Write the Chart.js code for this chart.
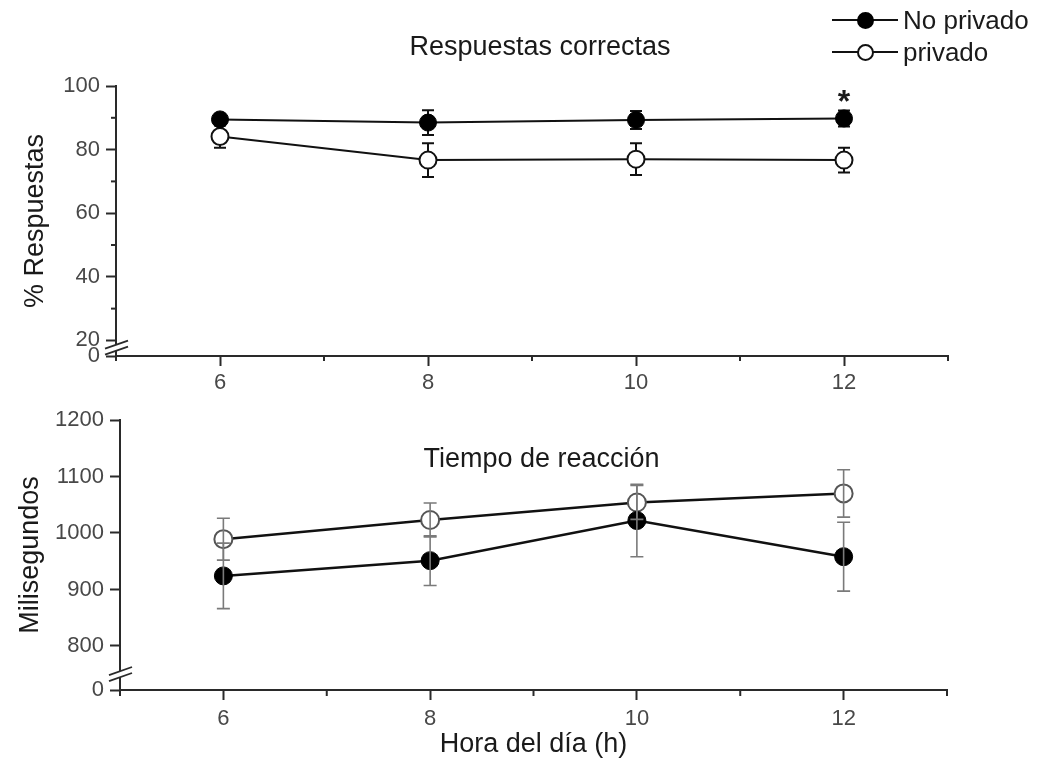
<!DOCTYPE html>
<html>
<head>
<meta charset="utf-8">
<script src="https://cdn.jsdelivr.net/npm/chart.js@4.4.1/dist/chart.umd.min.js"></script>
<style>
  html, body { margin: 0; padding: 0; background: #ffffff; }
  #wrap { position: relative; width: 1039px; height: 761px; overflow: hidden; font-family: "Liberation Sans", Arial, sans-serif; }
  #c1 { position: absolute; left: 0; top: 0; }
  #c2 { position: absolute; left: 0; top: 400px; }
  #legend { position: absolute; left: 832px; top: 4px; color: #1a1a1a; font-size: 26px; }
  .lg { height: 32px; display: flex; align-items: center; }
  .sym { position: relative; width: 66px; height: 32px; margin-right: 5px; }
  .sym .ln { position: absolute; left: 0; right: 0; top: 15px; border-top: 2px solid #111; }
  .sym .dot { position: absolute; left: 25px; top: 8px; width: 17px; height: 17px; border-radius: 50%; box-sizing: border-box; }
  .dot.filled { background: #000; border: 2px solid #000; }
  .dot.open { background: #fff; border: 2px solid #111; }
</style>
</head>
<body>
<div id="wrap">
  <canvas id="c1" width="1039" height="400"></canvas>
  <canvas id="c2" width="1039" height="361"></canvas>
  <div id="legend"></div>
</div>
<script>
// ---------------- data ----------------
const hours = [6, 8, 10, 12];
const seriesNames = ['No privado', 'privado'];

const correctNoPriv    = [89.5, 88.5, 89.3, 89.8];
const correctNoPrivErr = [1.5, 3.9, 2.8, 2.5];
const correctPriv      = [84.1, 76.7, 77.0, 76.7];
const correctPrivErr   = [3.5, 5.3, 5.0, 3.9];
const significant      = [false, false, false, true];

const rtNoPriv    = [924, 951, 1022, 958];
const rtNoPrivErr = [58, 44, 64, 61];
const rtPriv      = [989, 1023, 1054, 1070];
const rtPrivErr   = [37, 30, 30, 42];

const xTicks      = [6, 8, 10, 12];
const xMinorTicks = [5, 7, 9, 11, 13];
const topYTicks   = [20, 40, 60, 80, 100];
const topYMinor   = [30, 50, 70, 90];
const botYTicks   = [800, 900, 1000, 1100, 1200];

const topTitle = 'Respuestas correctas';
const botTitle = 'Tiempo de reacción';
const topYTitle = '% Respuestas';
const botYTitle = 'Milisegundos';
const xTitle = 'Hora del día (h)';

// axis settings (broken axes: the lowest tick is labelled "0")
const xMin = 5, xMax = 13;
const topYMin = 15.1, topYMax = 100, topBreakAt = 17.7;
const botYMin = 722, botYMax = 1200, botBreakAt = 750;

// ---------------- helpers ----------------
const FONT = '"Liberation Sans", Arial, sans-serif';
const AXIS = '#2a2a2a';
const TICKTXT = '#484848';
const TITLE_SIZE = 27;
const TICK_SIZE = 22;
const pts = (ys) => hours.map((h, i) => ({ x: h, y: ys[i] }));

// legend (HTML)
const legendEl = document.getElementById('legend');
[['filled', seriesNames[0]], ['open', seriesNames[1]]].forEach(([cls, name]) => {
  const row = document.createElement('div'); row.className = 'lg';
  row.innerHTML = '<div class="sym"><div class="ln"></div><div class="dot ' + cls + '"></div></div><span>' + name + '</span>';
  legendEl.appendChild(row);
});

function drawErrors(chart, o) {
  const ctx = chart.ctx, xs = chart.scales.x, ys = chart.scales.y;
  ctx.save();
  ctx.strokeStyle = o.color; ctx.lineWidth = o.width; ctx.lineCap = 'butt';
  chart.data.datasets.forEach(ds => {
    if (!ds.errors) return;
    ds.data.forEach((p, i) => {
      const e = ds.errors[i];
      const x = xs.getPixelForValue(p.x);
      const y1 = ys.getPixelForValue(p.y + e);
      const y2 = ys.getPixelForValue(p.y - e);
      ctx.beginPath();
      ctx.moveTo(x, y1); ctx.lineTo(x, y2);
      ctx.moveTo(x - o.cap, y1); ctx.lineTo(x + o.cap, y1);
      ctx.moveTo(x - o.cap, y2); ctx.lineTo(x + o.cap, y2);
      ctx.stroke();
    });
  });
  ctx.restore();
}

const errorBarPlugin = {
  id: 'errorBars',
  beforeDatasetsDraw(chart, args, o) { if (!o.onTop) drawErrors(chart, o); },
  afterDatasetsDraw(chart, args, o) { if (o.onTop) drawErrors(chart, o); }
};

const decorPlugin = {
  id: 'decor',
  afterDraw(chart, args, o) {
    const ctx = chart.ctx, xs = chart.scales.x, ys = chart.scales.y;
    const ca = chart.chartArea;
    ctx.save();
    ctx.strokeStyle = AXIS; ctx.lineWidth = 2;
    (o.xMinor || []).forEach(v => {
      const x = xs.getPixelForValue(v);
      ctx.beginPath(); ctx.moveTo(x, ca.bottom); ctx.lineTo(x, ca.bottom + o.minorLen); ctx.stroke();
    });
    (o.yMinor || []).forEach(v => {
      const y = ys.getPixelForValue(v);
      ctx.beginPath(); ctx.moveTo(ca.left, y); ctx.lineTo(ca.left - o.minorLen, y); ctx.stroke();
    });
    // axis break marks
    const by = ys.getPixelForValue(o.breakAt);
    const ax = ca.left;
    const dx1 = -11, dx2 = 12, slope = -0.35, gap = 3;
    ctx.fillStyle = '#ffffff';
    ctx.beginPath();
    ctx.moveTo(ax + dx1, by - gap + dx1 * slope);
    ctx.lineTo(ax + dx2, by - gap + dx2 * slope);
    ctx.lineTo(ax + dx2, by + gap + dx2 * slope);
    ctx.lineTo(ax + dx1, by + gap + dx1 * slope);
    ctx.closePath(); ctx.fill();
    ctx.lineWidth = 1.8;
    [-gap, gap].forEach(g => {
      ctx.beginPath();
      ctx.moveTo(ax + dx1, by + g + dx1 * slope);
      ctx.lineTo(ax + dx2, by + g + dx2 * slope);
      ctx.stroke();
    });
    // panel title
    ctx.fillStyle = '#1a1a1a';
    ctx.font = TITLE_SIZE + 'px ' + FONT;
    ctx.textAlign = 'center'; ctx.textBaseline = 'middle';
    ctx.fillText(o.title, (ca.left + ca.right) / 2 + o.titleDx, ca.top + o.titleDy);
    // significance marks
    if (o.sig) {
      const ds = chart.data.datasets[0];
      ctx.font = 'bold 32px ' + FONT;
      ctx.textBaseline = 'alphabetic';
      o.sig.forEach((s, i) => {
        if (!s) return;
        const p = ds.data[i];
        ctx.fillText('*', xs.getPixelForValue(p.x), ys.getPixelForValue(p.y + ds.errors[i]) + 2);
      });
    }
    ctx.restore();
  }
};

function xScale(withTitle, fitHeight, pad) {
  return {
    type: 'linear', min: xMin, max: xMax, position: 'bottom',
    afterBuildTicks: s => { s.ticks = xTicks.map(v => ({ value: v })); },
    afterFit: s => { s.height = fitHeight; },
    grid: { drawOnChartArea: false, drawTicks: true, tickLength: 10, tickColor: AXIS, tickWidth: 2 },
    border: { display: true, color: AXIS, width: 2 },
    ticks: { autoSkip: false, maxRotation: 0, padding: pad, color: TICKTXT, font: { family: FONT, size: TICK_SIZE } },
    title: withTitle ? { display: true, text: xTitle, color: '#1a1a1a', font: { family: FONT, size: TITLE_SIZE }, padding: { top: 0, bottom: 0 } } : { display: false }
  };
}

function yScale(min, max, ticks, title, fitWidth, titlePad) {
  return {
    type: 'linear', min: min, max: max, position: 'left',
    afterBuildTicks: s => { s.ticks = [min].concat(ticks).map(v => ({ value: v })); },
    afterFit: s => { s.width = fitWidth; },
    grid: { drawOnChartArea: false, drawTicks: true, tickLength: 10, tickColor: AXIS, tickWidth: 2 },
    border: { display: true, color: AXIS, width: 2 },
    ticks: { autoSkip: false, padding: 6, color: TICKTXT, font: { family: FONT, size: TICK_SIZE },
             callback: v => (v === min ? '0' : String(v)) },
    title: { display: true, text: title, color: '#1a1a1a', font: { family: FONT, size: TITLE_SIZE }, padding: { top: titlePad, bottom: 0 } }
  };
}

Chart.defaults.font.family = FONT;

// ---------------- top chart ----------------
new Chart(document.getElementById('c1'), {
  type: 'line',
  data: {
    datasets: [
      { label: seriesNames[0], data: pts(correctNoPriv), errors: correctNoPrivErr,
        borderColor: '#111', borderWidth: 2, backgroundColor: '#000',
        pointRadius: 8.5, pointBackgroundColor: '#000', pointBorderColor: '#000', pointBorderWidth: 1, tension: 0 },
      { label: seriesNames[1], data: pts(correctPriv), errors: correctPrivErr,
        borderColor: '#111', borderWidth: 2, backgroundColor: '#fff',
        pointRadius: 8.5, pointBackgroundColor: '#fff', pointBorderColor: '#111', pointBorderWidth: 2, tension: 0 }
    ]
  },
  options: {
    responsive: false, animation: false, devicePixelRatio: 1,
    layout: { padding: { top: 86, right: 91, left: 0, bottom: 0 } },
    scales: { x: xScale(false, 44, 4), y: yScale(topYMin, topYMax, topYTicks, topYTitle, 116, 19) },
    plugins: {
      legend: { display: false }, tooltip: { enabled: false },
      errorBars: { onTop: false, color: '#111', width: 2, cap: 6 },
      decor: { xMinor: xMinorTicks, yMinor: topYMinor, minorLen: 5, breakAt: topBreakAt,
               title: topTitle, titleDx: 8, titleDy: -38, sig: significant }
    }
  },
  plugins: [errorBarPlugin, decorPlugin]
});

// ---------------- bottom chart ----------------
new Chart(document.getElementById('c2'), {
  type: 'line',
  data: {
    datasets: [
      { label: seriesNames[0], data: pts(rtNoPriv), errors: rtNoPrivErr,
        borderColor: '#111', borderWidth: 2.5, backgroundColor: '#000',
        pointRadius: 9, pointBackgroundColor: '#000', pointBorderColor: '#000', pointBorderWidth: 1, tension: 0 },
      { label: seriesNames[1], data: pts(rtPriv), errors: rtPrivErr,
        borderColor: '#111', borderWidth: 2.5, backgroundColor: '#fff',
        pointRadius: 9, pointBackgroundColor: '#fff', pointBorderColor: '#555', pointBorderWidth: 2, tension: 0 }
    ]
  },
  options: {
    responsive: false, animation: false, devicePixelRatio: 1,
    layout: { padding: { top: 20, right: 92, left: 0, bottom: 0 } },
    scales: { x: xScale(true, 71, 6), y: yScale(botYMin, botYMax, botYTicks, botYTitle, 120, 14) },
    plugins: {
      legend: { display: false }, tooltip: { enabled: false },
      errorBars: { onTop: true, color: '#7a7a7a', width: 1.6, cap: 6.5 },
      decor: { xMinor: xMinorTicks, yMinor: [], minorLen: 6, breakAt: botBreakAt,
               title: botTitle, titleDx: 8, titleDy: 40, sig: null }
    }
  },
  plugins: [errorBarPlugin, decorPlugin]
});
</script>
</body>
</html>
